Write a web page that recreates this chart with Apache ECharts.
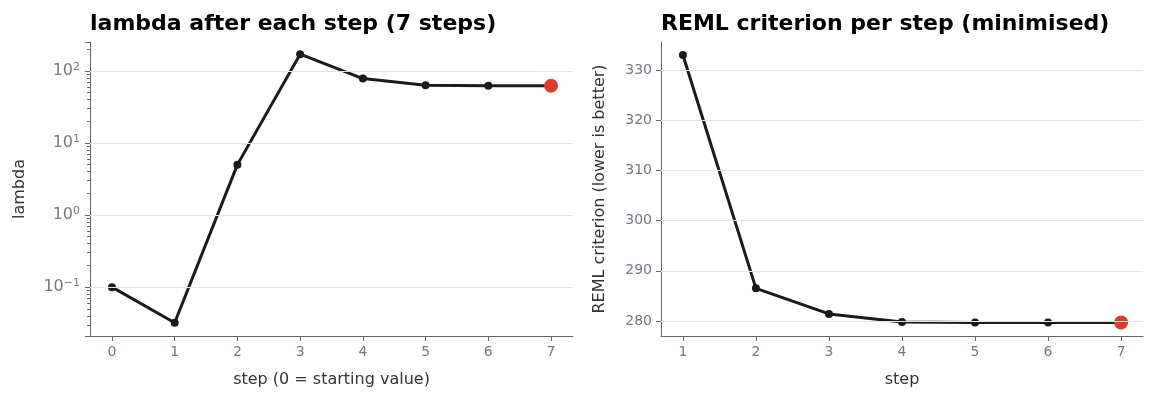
<!DOCTYPE html>
<html><head><meta charset="utf-8">
<script src="https://cdn.jsdelivr.net/npm/echarts@6/dist/echarts.min.js"></script>
<style>html,body{margin:0;padding:0;background:#fff}#c{width:1157px;height:403px}</style>
</head><body><div id="c"></div>
<script>
const lambdaSteps = [0,1,2,3,4,5,6,7];
const lambdaValues = [0.1,0.032,5,170,78,63,62,62];
const remlSteps = [1,2,3,4,5,6,7];
const remlValues = [333,286.5,281.4,279.8,279.7,279.7,279.7];
const lambdaGrid = [0.1,1,10,100];
const remlGrid = [280,290,300,310,320,330];

const chart = echarts.init(document.getElementById('c'));
const axisCol = '#5f6578', labCol = '#737786', gridCol = '#e4e4e4', lineCol = '#1b1b1f', red = '#d9402b';
const font = 'DejaVu Sans';
function sup(e){return e<0?'−'+(-e):''+e;}
function pts(xs, ys){return xs.map((x,i)=>[x,ys[i]]);}
function gridSeries(x,y,vals){return {type:'line',xAxisIndex:x,yAxisIndex:y,data:[],z:1,silent:true,
  markLine:{silent:true,symbol:'none',label:{show:false},lineStyle:{color:gridCol,type:'solid',width:1},
    data:vals.map(v=>({yAxis:v}))}};}
function lineSeries(x,y,data){return {type:'line',xAxisIndex:x,yAxisIndex:y,data:data.slice(0,-1).concat([{value:data[data.length-1],symbolSize:14,itemStyle:{color:red}}]),
  z:3,symbol:'circle',symbolSize:8,lineStyle:{color:lineCol,width:3},itemStyle:{color:lineCol},animation:false};}
const xBase = {type:'value',axisLine:{onZero:false,lineStyle:{color:axisCol,width:1}},axisTick:{lineStyle:{color:axisCol},length:5},
  axisLabel:{color:labCol,fontSize:14,fontFamily:font,margin:9,showMinLabel:false,showMaxLabel:false},splitLine:{show:false},
  nameLocation:'middle',nameGap:36,nameTextStyle:{color:'#333',fontSize:16,fontFamily:font}};
chart.setOption({
  animation:false,
  title:[{text:'lambda after each step (7 steps)',left:85,top:8,textStyle:{fontSize:22,fontWeight:'bold',color:'#000',fontFamily:font}},
         {text:'REML criterion per step (minimised)',left:656,top:8,textStyle:{fontSize:22,fontWeight:'bold',color:'#000',fontFamily:font}}],
  grid:[{left:90,right:584,top:42,bottom:67},{left:661,right:14,top:42,bottom:67}],
  xAxis:[Object.assign({},xBase,{gridIndex:0,min:-0.35,max:7.35,splitNumber:7,name:'step (0 = starting value)'}),
         Object.assign({},xBase,{gridIndex:1,min:0.7,max:7.3,splitNumber:6,name:'step'})],
  yAxis:[{type:'log',gridIndex:0,min:0.021,max:251,logBase:10,
          axisLine:{show:true,onZero:false,lineStyle:{color:axisCol}},axisTick:{show:true,lineStyle:{color:axisCol},length:5},
          minorTick:{show:true,splitNumber:9,length:3,lineStyle:{color:axisCol}},
          splitLine:{show:false},
          axisLabel:{color:labCol,fontSize:15,fontFamily:font,margin:10,
            formatter:v=>{const l=Math.log10(v),e=Math.round(l);if(Math.abs(l-e)>1e-6)return '';return '{a|10}{s|'+sup(e)+'}';},
            rich:{a:{fontSize:16,color:labCol,fontFamily:font},s:{fontSize:11,color:labCol,fontFamily:font,padding:[0,0,8,0]}}},
          name:'lambda',nameLocation:'middle',nameGap:62,nameTextStyle:{color:'#333',fontSize:16,fontFamily:font}},
         {type:'value',gridIndex:1,min:277,max:335.6,splitNumber:6,
          axisLine:{show:true,onZero:false,lineStyle:{color:axisCol}},axisTick:{show:true,lineStyle:{color:axisCol},length:5},
          splitLine:{show:false},
          axisLabel:{color:labCol,fontSize:14,fontFamily:font,margin:9,showMinLabel:false,showMaxLabel:false},
          name:'REML criterion (lower is better)',nameLocation:'middle',nameGap:53,nameTextStyle:{color:'#333',fontSize:16,fontFamily:font}}],
  series:[gridSeries(0,0,lambdaGrid),gridSeries(1,1,remlGrid),
          lineSeries(0,0,pts(lambdaSteps,lambdaValues)),lineSeries(1,1,pts(remlSteps,remlValues))]
});
</script></body></html>
